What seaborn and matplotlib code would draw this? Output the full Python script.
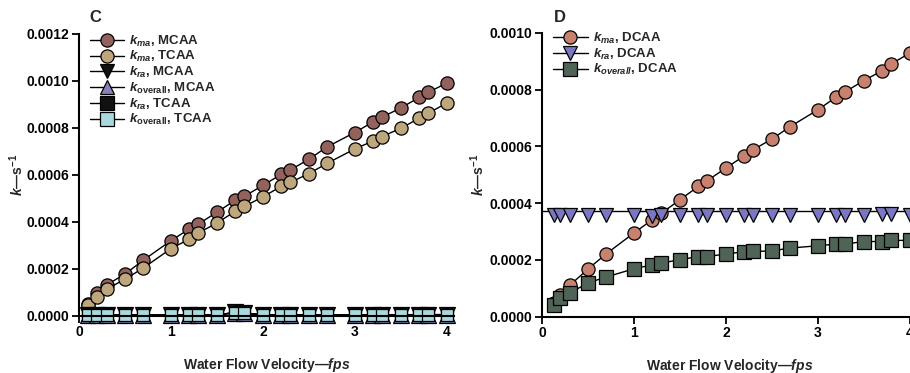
import numpy as np
import pandas as pd
import matplotlib
matplotlib.use("Agg")
import matplotlib.pyplot as plt
from matplotlib.ticker import FormatStrFormatter, MultipleLocator
from matplotlib.lines import Line2D
import seaborn as sns

sns.set_theme(style="ticks")
plt.rcParams['font.family'] = ['Liberation Sans', 'DejaVu Sans']
plt.rcParams['font.weight'] = 'bold'
plt.rcParams['mathtext.fontset'] = 'custom'
plt.rcParams['mathtext.it'] = 'Liberation Sans:italic:bold'
plt.rcParams['mathtext.rm'] = 'Liberation Sans:bold'
plt.rcParams['mathtext.bf'] = 'Liberation Sans:bold'

# ---------------- data ----------------
velocity_C = [0.1, 0.2, 0.3, 0.5, 0.7, 1.0, 1.2, 1.3, 1.5, 1.7, 1.8, 2.0,
              2.2, 2.3, 2.5, 2.7, 3.0, 3.2, 3.3, 3.5, 3.7, 3.8, 4.0]
kma_MCAA = [5.0e-5, 9.6e-5, 1.31e-4, 1.77e-4, 2.36e-4, 3.19e-4, 3.69e-4, 3.90e-4,
            4.40e-4, 4.91e-4, 5.08e-4, 5.54e-4, 6.01e-4, 6.20e-4, 6.65e-4, 7.18e-4,
            7.79e-4, 8.24e-4, 8.45e-4, 8.83e-4, 9.28e-4, 9.50e-4, 9.89e-4]
kma_TCAA = [4.6e-5, 7.8e-5, 1.13e-4, 1.55e-4, 2.03e-4, 2.85e-4, 3.26e-4, 3.52e-4,
            3.94e-4, 4.44e-4, 4.65e-4, 5.05e-4, 5.50e-4, 5.67e-4, 6.04e-4, 6.48e-4,
            7.09e-4, 7.43e-4, 7.62e-4, 7.97e-4, 8.39e-4, 8.61e-4, 9.04e-4]
kra_MCAA = [2e-6, 3e-6, 3e-6, 3e-6, 3e-6, 3e-6, 3e-6, 3e-6,
            4e-6, 1.4e-5, 1.2e-5, 4e-6, 4e-6, 4e-6, 4e-6, 4e-6,
            4e-6, 4e-6, 4e-6, 4e-6, 5e-6, 5e-6, 5e-6]
koverall_MCAA = [2e-6, 2e-6, 2e-6, 2e-6, 3e-6, 3e-6, 3e-6, 3e-6,
                 3e-6, 1.3e-5, 1.1e-5, 3e-6, 3e-6, 3e-6, 3e-6, 3e-6,
                 3e-6, 3e-6, 3e-6, 4e-6, 4e-6, 4e-6, 4e-6]
kra_TCAA = [2e-6, 2e-6, 2e-6, 2e-6, 2e-6, 2e-6, 3e-6, 3e-6,
            3e-6, 1.3e-5, 1.1e-5, 3e-6, 3e-6, 3e-6, 3e-6, 3e-6,
            3e-6, 3e-6, 3e-6, 3e-6, 4e-6, 4e-6, 4e-6]
koverall_TCAA = [1e-6, 2e-6, 2e-6, 2e-6, 2e-6, 2e-6, 2e-6, 2e-6,
                 3e-6, 1.3e-5, 1.1e-5, 3e-6, 3e-6, 3e-6, 3e-6, 3e-6,
                 3e-6, 3e-6, 3e-6, 3e-6, 3e-6, 3e-6, 3e-6]

velocity_D = [0.13, 0.2, 0.3, 0.5, 0.7, 1.0, 1.2, 1.3, 1.5, 1.7, 1.8, 2.0,
              2.2, 2.3, 2.5, 2.7, 3.0, 3.2, 3.3, 3.5, 3.7, 3.8, 4.0]
kma_DCAA = [4.8e-5, 7.7e-5, 1.10e-4, 1.68e-4, 2.22e-4, 2.95e-4, 3.42e-4, 3.65e-4,
            4.12e-4, 4.59e-4, 4.80e-4, 5.24e-4, 5.67e-4, 5.89e-4, 6.26e-4, 6.70e-4,
            7.29e-4, 7.74e-4, 7.93e-4, 8.32e-4, 8.67e-4, 8.91e-4, 9.29e-4]
kra_DCAA = [3.57e-4, 3.57e-4, 3.58e-4, 3.57e-4, 3.57e-4, 3.57e-4, 3.56e-4, 3.57e-4,
            3.58e-4, 3.58e-4, 3.58e-4, 3.58e-4, 3.58e-4, 3.58e-4, 3.58e-4, 3.57e-4,
            3.58e-4, 3.58e-4, 3.58e-4, 3.58e-4, 3.62e-4, 3.61e-4, 3.59e-4]
kra_DCAA_fit = 3.71e-4
koverall_DCAA = [4.2e-5, 6.6e-5, 8.3e-5, 1.19e-4, 1.40e-4, 1.69e-4, 1.83e-4, 1.89e-4,
                 2.01e-4, 2.12e-4, 2.12e-4, 2.21e-4, 2.29e-4, 2.30e-4, 2.32e-4, 2.42e-4,
                 2.50e-4, 2.56e-4, 2.56e-4, 2.65e-4, 2.65e-4, 2.69e-4, 2.69e-4]

x_ticks = [0, 1, 2, 3, 4]

# ---------------- figure ----------------
W, H = 910, 373
fig = plt.figure(figsize=(W / 100, H / 100), dpi=100)
axC = fig.add_axes([79 / W, 1 - 315.7 / H, (454 - 79) / W, (315.7 - 33.5) / H])
axD = fig.add_axes([542 / W, 1 - 316.7 / H, (917 - 542) / W, (316.7 - 33) / H])

ms = 9.5
common = dict(color='black', lw=1.0, markeredgecolor='black', markeredgewidth=0.9,
              clip_on=False, estimator=None, sort=False)

seriesC = [
    (kma_MCAA, 'o', '#93625d', r'$k_{ma}$, MCAA', ms),
    (kma_TCAA, 'o', '#bea77d', r'$k_{ma}$, TCAA', ms),
    (kra_MCAA, 'v', '#111111', r'$k_{ra}$, MCAA', 11.5),
    (koverall_MCAA, '^', '#8a80b8', r'$k_{\mathrm{overall}}$, MCAA', 11.5),
    (kra_TCAA, 's', '#111111', r'$k_{ra}$, TCAA', 9),
    (koverall_TCAA, 's', '#a9d9dc', r'$k_{\mathrm{overall}}$, TCAA', 9),
]
for vals, mk, fc, lab, size in seriesC:
    df = pd.DataFrame({'v': velocity_C, 'k': vals})
    sns.lineplot(data=df, x='v', y='k', marker=mk, markerfacecolor=fc,
                 markersize=size, label=lab, ax=axC, **common)

dfD1 = pd.DataFrame({'v': velocity_D, 'k': kma_DCAA})
sns.lineplot(data=dfD1, x='v', y='k', marker='o', markerfacecolor='#c8816f',
             markersize=ms, ax=axD, **common)
axD.axhline(kra_DCAA_fit, color='black', lw=1.0, zorder=1)
dfD2 = pd.DataFrame({'v': velocity_D, 'k': kra_DCAA})
sns.lineplot(data=dfD2, x='v', y='k', marker='v', markerfacecolor='#7b77c2',
             markersize=ms, linestyle='', ax=axD, **common)
dfD3 = pd.DataFrame({'v': velocity_D, 'k': koverall_DCAA})
sns.lineplot(data=dfD3, x='v', y='k', marker='s', markerfacecolor='#4f6356',
             markersize=ms, ax=axD, **common)

hD = [Line2D([], [], color='black', lw=1.0, marker='o', markerfacecolor='#c8816f',
             markeredgecolor='black', markeredgewidth=0.9, markersize=ms),
      Line2D([], [], color='black', lw=1.0, marker='v', markerfacecolor='#7b77c2',
             markeredgecolor='black', markeredgewidth=0.9, markersize=ms),
      Line2D([], [], color='black', lw=1.0, marker='s', markerfacecolor='#4f6356',
             markeredgecolor='black', markeredgewidth=0.9, markersize=ms)]
lD = [r'$k_{ma}$, DCAA', r'$k_{ra}$, DCAA', r'$k_{overall}$, DCAA']

legkw = dict(frameon=False, loc='upper left', fontsize=9.5, handlelength=2.6,
             handletextpad=0.4, labelspacing=0.05, borderpad=0, borderaxespad=0)
legC = axC.legend(bbox_to_anchor=(0.028, 1.0), **legkw)
for h in legC.legend_handles:
    h.set_markersize(ms)
axD.legend(hD, lD, bbox_to_anchor=(0.03, 1.008), **legkw)

for ax, ymax, step, lx in [(axC, 0.0012, 0.0002, -0.165), (axD, 0.0010, 0.0002, -0.172)]:
    ax.set_xlim(0, 4.08)
    ax.set_ylim(0, ymax)
    ax.set_xticks(x_ticks)
    ax.yaxis.set_major_locator(MultipleLocator(step))
    ax.yaxis.set_major_formatter(FormatStrFormatter('%.4f'))
    for s in ['top', 'right']:
        ax.spines[s].set_visible(False)
    for s in ['left', 'bottom']:
        ax.spines[s].set_linewidth(1.5)
        ax.spines[s].set_color('black')
    ax.tick_params(axis='both', direction='out', length=5, width=1.3, color='black',
                   labelsize=10, pad=2, labelcolor='black')
    for t in ax.get_xticklabels() + ax.get_yticklabels():
        t.set_fontweight('bold')
    ax.set_xlabel(r'Water Flow Velocity—$fps$', fontsize=10, fontweight='bold')
    ax.xaxis.set_label_coords(0.5, -0.173)
    ax.xaxis.label.set_va('center')
    ax.set_ylabel(r'$k$—s$^{-1}$', fontsize=10, fontweight='bold')
    ax.yaxis.set_label_coords(lx, 0.5)
    ax.yaxis.label.set_va('center')

fig.text(95 / W, 1 - 18 / H, 'C', ha='center', va='center', fontsize=12, fontweight='bold')
fig.text(560 / W, 1 - 17 / H, 'D', ha='center', va='center', fontsize=12, fontweight='bold')

fig.savefig('out.png', dpi=100, facecolor='white')
